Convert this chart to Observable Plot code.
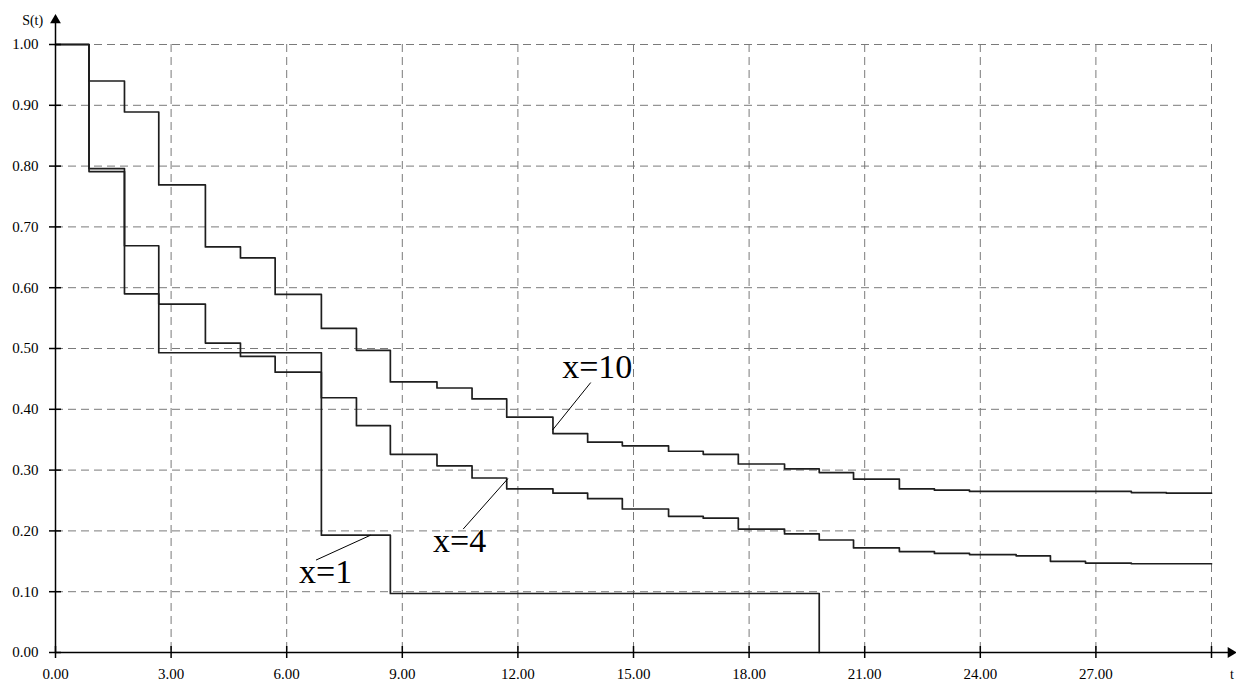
<!DOCTYPE html>
<html>
<head>
<meta charset="utf-8">
<script src="https://cdn.jsdelivr.net/npm/d3@7"></script>
<script src="https://cdn.jsdelivr.net/npm/@observablehq/plot@0.6"></script>
<style>
  html, body { margin: 0; padding: 0; background: white; }
</style>
</head>
<body>
<div id="chart"></div>
<script>
// Step times (start of each interval)
const T = [0, 0.87, 1.79, 2.68, 3.89, 4.80, 5.70, 6.90, 7.81, 8.69, 9.90, 10.81, 11.71, 12.91, 13.81,
  14.71, 15.91, 16.81, 17.72, 18.92, 19.82, 20.71, 21.90, 22.81, 23.72, 24.93, 25.82, 26.73, 27.92, 28.83, 30.0];

// Survival values for each curve
const S10 = [1.00, 0.940, 0.889, 0.769, 0.667, 0.649, 0.589, 0.533, 0.497, 0.445, 0.435, 0.417, 0.387, 0.360, 0.346,
  0.340, 0.331, 0.326, 0.310, 0.302, 0.296, 0.285, 0.269, 0.267, 0.265, 0.265, 0.265, 0.265, 0.263, 0.262, 0.262];
const S4 = [1.00, 0.796, 0.669, 0.573, 0.509, 0.487, 0.461, 0.419, 0.373, 0.326, 0.307, 0.287, 0.269, 0.262, 0.253,
  0.236, 0.224, 0.221, 0.203, 0.195, 0.185, 0.172, 0.166, 0.163, 0.161, 0.159, 0.150, 0.147, 0.146, 0.146, 0.146];
const S1 = [1.00, 0.791, 0.590, 0.493, 0.493, 0.493, 0.493, 0.193, 0.193, 0.097, 0.097, 0.097, 0.097, 0.097, 0.097,
  0.097, 0.097, 0.097, 0.097, 0.097, 0.00];

const xTicks = [0, 3, 6, 9, 12, 15, 18, 21, 24, 27, 30];
const xTickLabels = [0, 3, 6, 9, 12, 15, 18, 21, 24, 27];
const yTicks = [0, 0.1, 0.2, 0.3, 0.4, 0.5, 0.6, 0.7, 0.8, 0.9, 1.0];

// Curve labels and leader lines
const labels = [
  {text: "x=10", t: 14.06, s: 0.470, t1: 13.89, s1: 0.444, t2: 12.90, s2: 0.366},
  {text: "x=4", t: 10.49, s: 0.183, t1: 10.58, s1: 0.203, t2: 11.74, s2: 0.286},
  {text: "x=1", t: 7.01, s: 0.132, t1: 6.76, s1: 0.152, t2: 8.18, s2: 0.193}
];

const rows = [
  ...S10.map((s, i) => ({t: T[i], s, g: "x=10"})),
  ...S4.map((s, i) => ({t: T[i], s, g: "x=4"})),
  ...S1.map((s, i) => ({t: T[i], s, g: "x=1"}))
];

const gridStyle = {stroke: "#7a7a7a", strokeOpacity: 1, strokeWidth: 1, strokeDasharray: "8,5"};

const chart = Plot.plot({
  width: 1236,
  height: 682,
  marginLeft: 55,
  marginRight: 25,
  marginTop: 44,
  marginBottom: 30,
  x: {domain: [0, 30], label: null},
  y: {domain: [0, 1], label: null},
  style: {fontFamily: "'Liberation Serif', 'Times New Roman', serif", background: "white", color: "black", overflow: "visible"},
  marks: [
    Plot.gridX(xTicks.filter(d => d > 0), gridStyle),
    Plot.gridY(yTicks.filter(d => d > 0), gridStyle),
    Plot.line(rows, {x: "t", y: "s", z: "g", curve: "step-after", stroke: "#1e1e1e", strokeWidth: 1.7}),
    // axes lines with arrows
    Plot.link([{x1: 0, y1: 0, x2: 30.5, y2: 0}], {x1: "x1", y1: "y1", x2: "x2", y2: "y2", stroke: "black", strokeWidth: 1.5}),
    Plot.link([{x1: 0, y1: 0, x2: 0, y2: 1.04}], {x1: "x1", y1: "y1", x2: "x2", y2: "y2", stroke: "black", strokeWidth: 1.5}),
    Plot.dot([{x: 30.5, y: 0}], {x: "x", y: "y", symbol: "triangle", rotate: 90, r: 4, fill: "black", stroke: null}),
    Plot.dot([{x: 0, y: 1.04}], {x: "x", y: "y", symbol: "triangle", r: 4, fill: "black", stroke: null}),
    // tick marks crossing the axes
    Plot.axisX(xTicks, {tickSize: 12, dy: -6, text: null, stroke: "black", strokeWidth: 1.5}),
    Plot.axisY(yTicks, {tickSize: 12, dx: 6, text: null, stroke: "black", strokeWidth: 1.5}),
    // tick labels
    Plot.axisX(xTickLabels, {tickSize: 0, tickPadding: 16, tickFormat: d3.format(".2f"), fontSize: 15, fill: "black", label: null}),
    Plot.axisY(yTicks, {tickSize: 0, tickPadding: 17, tickFormat: d3.format(".2f"), fontSize: 15, fill: "black", label: null}),
    // axis titles
    Plot.text([{x: -0.32, y: 1.04, text: "S(t)"}], {x: "x", y: "y", text: "text", textAnchor: "end", fontSize: 14, fill: "black"}),
    Plot.text([{x: 30.58, y: -0.037, text: "t"}], {x: "x", y: "y", text: "text", textAnchor: "end", fontSize: 14, fill: "black"}),
    // curve labels
    Plot.link(labels, {x1: "t1", y1: "s1", x2: "t2", y2: "s2", stroke: "black", strokeWidth: 1}),
    Plot.text(labels, {x: "t", y: "s", text: "text", fontSize: 34, fill: "black"})
  ]
});

document.getElementById("chart").appendChild(chart);
</script>
</body>
</html>
